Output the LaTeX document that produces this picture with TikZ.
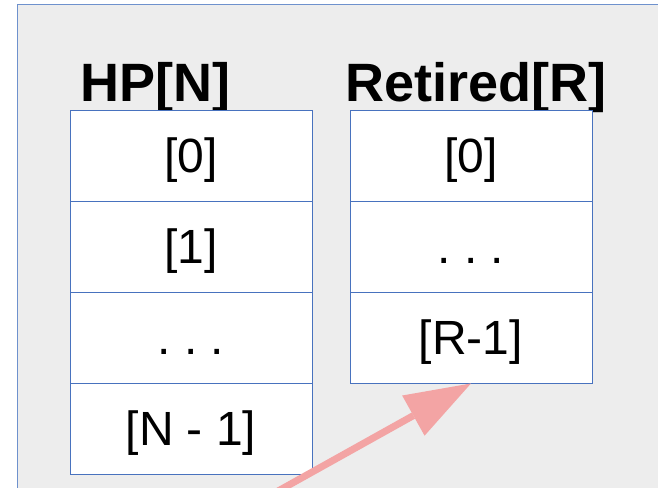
\documentclass[tikz,border=0pt]{standalone}
\usepackage{fontspec}
\setmainfont{Liberation Sans}
\usetikzlibrary{arrows.meta}
\definecolor{bggray}{RGB}{237,237,237}
\definecolor{bgborder}{RGB}{110,145,205}
\definecolor{cellblue}{RGB}{72,114,190}
\definecolor{arrowpink}{RGB}{243,164,164}
\tikzset{
  cell/.style={draw=cellblue, line width=0.9pt, fill=white, minimum width=242pt, minimum height=91pt,
    inner sep=0pt, text height=40pt, text depth=7pt, font=\fontsize{48}{54}\selectfont},
  title/.style={anchor=base west, inner sep=0pt, font=\fontsize{54}{62}\selectfont\bfseries},
  bigarrow/.style={draw=arrowpink, line width=7pt, -{Triangle[length=66pt,width=46pt,line width=0pt]}, arrowpink}
}
\begin{document}
\begin{tikzpicture}[x=1pt,y=-1pt]
\useasboundingbox (0,0) rectangle (658,487);
\clip (0,0) rectangle (658,487);
\fill[bggray] (17,5) rectangle (670,500);
\draw[bgborder, line width=1pt] (17,500) -- (17,5) -- (670,5);

\node[title] (hpt) at (80.5,101) {HP[N]};
\node[title] (rt) at (345.5,101) {Retired[R]};

\node[cell] (h0) at (191,155.5) {[0]};
\node[cell] (h1) at (191,246.5) {[1]};
\node[cell] (h2) at (191,337.5) {.\ .\ .};
\node[cell] (h3) at (191,428.5) {[N - 1]};

\node[cell] (r0) at (471,155.5) {[0]};
\node[cell] (r1) at (471,246.5) {.\ .\ .};
\node[cell] (r2) at (471,337.5) {[R-1]};

\coordinate (astart) at (262,500);
\draw[bigarrow] (astart) -- (r2.south);
\end{tikzpicture}
\end{document}
